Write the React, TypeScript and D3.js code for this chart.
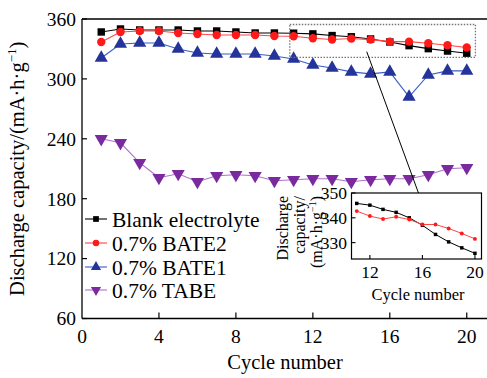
import { useEffect, useRef } from "react";
import * as d3 from "d3";

// cycle numbers 1..20
const cycles = [1, 2, 3, 4, 5, 6, 7, 8, 9, 10, 11, 12, 13, 14, 15, 16, 17, 18, 19, 20];

// discharge capacity, mA·h·g-1
const blank = [347, 350, 349, 349, 349, 348, 348, 347, 346, 346, 345.8, 345.1, 343.4, 342.2, 340.0, 337.0, 333.3, 330.3, 327.9, 325.7];
const bate2 = [337, 347, 348, 348, 346, 345, 344, 344, 344, 343, 342.7, 340.7, 339.5, 340.4, 339.3, 337.3, 337.3, 335.7, 333.7, 331.5];
const bate1 = [321, 335, 336, 336, 330, 326, 325, 325, 325, 323, 320, 314, 311, 307, 305, 307, 282, 304, 308, 308];
const tabe = [240, 236, 216, 201, 205, 197, 203, 204, 203, 198, 199, 200, 200, 197, 199, 200, 200, 204, 210, 211];

const seriesNames = ["Blank electrolyte", "0.7% BATE2", "0.7% BATE1", "0.7% TABE"];
const seriesColors = ["#000000", "#ff1a1a", "#24349a", "#7a2a9e"];
const lineColors = ["#000000", "#ff4444", "#3a5cc8", "#b070d0"];
const seriesSymbols = [d3.symbolSquare, d3.symbolCircle, d3.symbolTriangle, "down"];

const yTicks = [60, 120, 180, 240, 300, 360];
const xTicks = [0, 4, 8, 12, 16, 20];
const insetXTicks = [12, 16, 20];
const insetYTicks = [330, 340, 350];

const FONT = "'Liberation Serif', 'Times New Roman', serif";

const App = () => {
  const svgRef = useRef<SVGSVGElement>(null);

  useEffect(() => {
    const svg = d3.select(svgRef.current);
    svg.selectAll("*").remove();

    const all = [blank, bate2, bate1, tabe];

    const x = d3.scaleLinear().domain([0, 21]).range([82, 486]);
    const y = d3.scaleLinear().domain([60, 360]).range([318.5, 19]);

    const g = svg.append("g");

    // frame: left, bottom, top
    g.append("line").attr("x1", 82).attr("x2", 82).attr("y1", y(360)).attr("y2", y(60))
      .attr("stroke", "#000").attr("stroke-width", 1.3);
    g.append("line").attr("x1", 82).attr("x2", 487).attr("y1", y(60)).attr("y2", y(60))
      .attr("stroke", "#000").attr("stroke-width", 1.3);
    g.append("line").attr("x1", 82).attr("x2", 487).attr("y1", y(360)).attr("y2", y(360))
      .attr("stroke", "#000").attr("stroke-width", 1.3);

    // ticks
    yTicks.forEach((t) => {
      g.append("line").attr("x1", 82).attr("x2", 87).attr("y1", y(t)).attr("y2", y(t))
        .attr("stroke", "#000").attr("stroke-width", 1.2);
      g.append("text").attr("x", 76).attr("y", y(t)).attr("dy", "0.35em")
        .attr("text-anchor", "end").attr("font-family", FONT).attr("font-size", 19.5)
        .text(t);
    });
    xTicks.forEach((t) => {
      if (t > 0)
        g.append("line").attr("x1", x(t)).attr("x2", x(t)).attr("y1", y(60)).attr("y2", y(60) - 6)
          .attr("stroke", "#000").attr("stroke-width", 1.2);
      g.append("text").attr("x", x(t)).attr("y", y(60) + 24)
        .attr("text-anchor", "middle").attr("font-family", FONT).attr("font-size", 19.5)
        .text(t);
    });

    // axis titles
    g.append("text").attr("x", 285).attr("y", 369)
      .attr("text-anchor", "middle").attr("font-family", FONT).attr("font-size", 20.5)
      .text("Cycle number");
    const yt = g.append("text")
      .attr("transform", `translate(24,${(y(60) + y(360)) / 2}) rotate(-90)`)
      .attr("text-anchor", "middle").attr("font-family", FONT).attr("font-size", 20.5);
    yt.append("tspan").text("Discharge capacity/(mA·h·g");
    yt.append("tspan").attr("font-size", 13).attr("dy", -8).text("−1");
    yt.append("tspan").attr("dy", 8).text(")");

    const symbolPath = (sym: any, size: number) => {
      if (sym === "down") return d3.symbol(d3.symbolTriangle, size)();
      return d3.symbol(sym, size)();
    };
    const symbolRotate = (sym: any) => (sym === "down" ? " rotate(180)" : "");

    const lineGen = d3.line<number>().x((_, i) => x(cycles[i])).y((d) => y(d));
    const markerSizes = [55, 55, 75, 75];

    // series
    all.forEach((data, si) => {
      g.append("path").attr("d", lineGen(data)).attr("fill", "none")
        .attr("stroke", lineColors[si]).attr("stroke-width", 1.1);
      g.selectAll(`path.m${si}`).data(data).enter().append("path")
        .attr("class", `m${si}`)
        .attr("d", symbolPath(seriesSymbols[si], markerSizes[si]))
        .attr("transform", (d, i) => `translate(${x(cycles[i])},${y(d)})${symbolRotate(seriesSymbols[si])}`)
        .attr("fill", seriesColors[si]);
    });

    // zoom box (dotted)
    g.append("rect")
      .attr("x", x(10.8)).attr("y", y(354.5))
      .attr("width", x(20.45) - x(10.8)).attr("height", y(321.5) - y(354.5))
      .attr("fill", "none").attr("stroke", "#777").attr("stroke-width", 1.3)
      .attr("stroke-dasharray", "1.5,1.5");

    // legend
    const legendY = [219, 243, 267, 290];
    seriesNames.forEach((name, si) => {
      const ly = legendY[si];
      g.append("line").attr("x1", 85).attr("x2", 107).attr("y1", ly).attr("y2", ly)
        .attr("stroke", lineColors[si]).attr("stroke-width", 1.1);
      g.append("path").attr("d", symbolPath(seriesSymbols[si], markerSizes[si] * 0.6))
        .attr("transform", `translate(96,${ly})${symbolRotate(seriesSymbols[si])}`)
        .attr("fill", seriesColors[si]);
      g.append("text").attr("x", 112).attr("y", ly).attr("dy", "0.35em")
        .attr("font-family", FONT).attr("font-size", 21.5).text(name);
    });

    // inset
    const ix = d3.scaleLinear().domain([10.6, 20.5]).range([351.5, 481.5]);
    const iy = d3.scaleLinear().domain([323.4, 350]).range([259, 193]);
    const ig = svg.append("g");

    // connector line
    ig.append("line")
      .attr("x1", x(14.8)).attr("y1", y(327.3))
      .attr("x2", ix(15.7)).attr("y2", iy(350))
      .attr("stroke", "#000").attr("stroke-width", 1);

    ig.append("rect").attr("x", 351.5).attr("y", 193).attr("width", 130).attr("height", 66)
      .attr("fill", "#fff").attr("stroke", "#000").attr("stroke-width", 1.2);

    insetYTicks.forEach((t) => {
      ig.append("line").attr("x1", 351.5).attr("x2", 355.5).attr("y1", iy(t)).attr("y2", iy(t))
        .attr("stroke", "#000").attr("stroke-width", 1.1);
      ig.append("text").attr("x", 347).attr("y", iy(t)).attr("dy", "0.35em")
        .attr("text-anchor", "end").attr("font-family", FONT).attr("font-size", 17.5).text(t);
    });
    insetXTicks.forEach((t) => {
      ig.append("line").attr("x1", ix(t)).attr("x2", ix(t)).attr("y1", 259).attr("y2", 255)
        .attr("stroke", "#000").attr("stroke-width", 1.1);
      ig.append("text").attr("x", ix(t)).attr("y", 278)
        .attr("text-anchor", "middle").attr("font-family", FONT).attr("font-size", 17.5).text(t);
    });
    ig.append("text").attr("x", 418).attr("y", 300)
      .attr("text-anchor", "middle").attr("font-family", FONT).attr("font-size", 16.5)
      .text("Cycle number");
    const titleLines = ["Discharge", "capacity/"];
    titleLines.forEach((txt, k) => {
      ig.append("text")
        .attr("transform", `translate(${288 + k * 17},196) rotate(-90)`)
        .attr("text-anchor", "end").attr("font-family", FONT).attr("font-size", 16)
        .text(txt);
    });
    const iyt3 = ig.append("text")
      .attr("transform", `translate(322,196) rotate(-90)`)
      .attr("text-anchor", "end").attr("font-family", FONT).attr("font-size", 16);
    iyt3.append("tspan").text("(mA·h·g");
    iyt3.append("tspan").attr("font-size", 10).attr("dy", -6).text("−1");
    iyt3.append("tspan").attr("dy", 6).text(")");

    const insetCycles = cycles.slice(10);
    const insetLine = d3.line<number>().x((_, i) => ix(insetCycles[i])).y((d) => iy(d));
    [blank.slice(10), bate2.slice(10)].forEach((data, si) => {
      ig.append("path").attr("d", insetLine(data)).attr("fill", "none")
        .attr("stroke", lineColors[si]).attr("stroke-width", 1);
      ig.selectAll(`path.im${si}`).data(data).enter().append("path")
        .attr("class", `im${si}`)
        .attr("d", symbolPath(seriesSymbols[si], 12))
        .attr("transform", (d, i) => `translate(${ix(insetCycles[i])},${iy(d)})`)
        .attr("fill", seriesColors[si]);
    });
  }, []);

  return (
    <svg
      ref={svgRef}
      width={487}
      height={378}
      style={{ position: "absolute", left: 0, top: 0, background: "#fff" }}
    />
  );
};

export default App;
